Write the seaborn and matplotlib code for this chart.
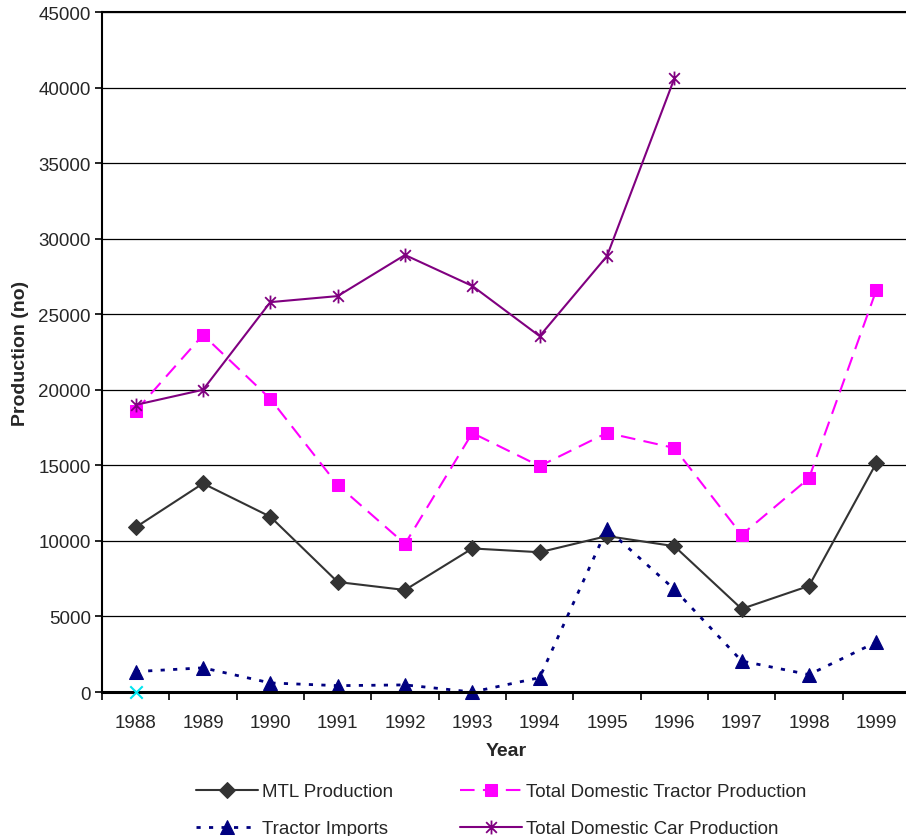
import numpy as np
import pandas as pd
import matplotlib
matplotlib.use("Agg")
import matplotlib.pyplot as plt
from matplotlib.path import Path
import seaborn as sns

years = [1988, 1989, 1990, 1991, 1992, 1993, 1994, 1995, 1996, 1997, 1998, 1999]
mtl_production = [10900, 13800, 11600, 7280, 6750, 9500, 9250, 10320, 9650, 5500, 7020, 15150]
tractor_production = [18600, 23630, 19400, 13700, 9800, 17140, 14950, 17150, 16150, 10400, 14150, 26600]
tractor_imports = [1350, 1600, 600, 420, 470, 0, 950, 10800, 6800, 2050, 1150, 3300]
car_production = [19000, 20000, 25800, 26200, 28920, 26870, 23550, 28850, 40600, np.nan, np.nan, np.nan]
extra_year = [1988]
extra_value = [0]

y_ticks = list(range(0, 45001, 5000))

sns.set_theme(style="white")
plt.rcParams["font.family"] = ["Liberation Sans", "DejaVu Sans"]

fig = plt.figure(figsize=(9.06, 8.37), dpi=100)
ax = fig.add_axes([102 / 906, 1 - 693 / 837, 808 / 906, 680 / 837])

# Asterisk marker: an X with a vertical stroke through it
star_path = Path(
    [(-1, -1), (1, 1), (-1, 1), (1, -1), (0, -1.3), (0, 1.3)],
    [Path.MOVETO, Path.LINETO, Path.MOVETO, Path.LINETO, Path.MOVETO, Path.LINETO],
)

df = pd.DataFrame({
    "year": years,
    "mtl": mtl_production,
    "tractor": tractor_production,
    "imports": tractor_imports,
    "car": car_production,
})

sns.lineplot(data=df, x="year", y="mtl", ax=ax, color="#333333", lw=1.5,
             marker="D", markersize=8, markeredgecolor="#333333",
             label="MTL Production")
sns.lineplot(data=df, x="year", y="imports", ax=ax, color="#000080", lw=2,
             linestyle=(0, (1.5, 3)), marker="^", markersize=9.5,
             markeredgecolor="#000080", label="Tractor Imports", clip_on=False)
sns.lineplot(data=df, x="year", y="tractor", ax=ax, color="#FF00FF", lw=1.5,
             linestyle=(0, (7, 4)), marker="s", markersize=9,
             markeredgecolor="#FF00FF", label="Total Domestic Tractor Production")
sns.lineplot(data=df.dropna(), x="year", y="car", ax=ax, color="#800080", lw=1.5,
             marker=star_path, markersize=10, markeredgewidth=1.3,
             markeredgecolor="#800080", label="Total Domestic Car Production")
sns.scatterplot(x=extra_year, y=extra_value, ax=ax, marker="x", color="#00E5EE",
                s=80, linewidth=1.5, zorder=5, clip_on=False, legend=False)

ax.set_xlim(years[0] - 0.5, years[-1] + 0.5)
ax.set_ylim(0, 45000)
ax.set_yticks(y_ticks)
ax.set_yticklabels([str(v) for v in y_ticks], fontsize=13.5)
ax.set_xticks(years)
ax.set_xticklabels([str(y) for y in years], fontsize=13.5)
ax.set_xticks(np.arange(years[0] - 0.5, years[-1] + 0.6, 1), minor=True)
ax.tick_params(axis="x", which="major", length=0, pad=16)
ax.tick_params(axis="x", which="minor", length=6, width=1.2, color="black", direction="out", bottom=True)
ax.tick_params(axis="y", which="major", length=5, width=1.2, color="black", direction="out", left=True, pad=3)
ax.grid(False)
for v in y_ticks[1:]:
    ax.axhline(v, color="black", lw=0.9, zorder=0)

for side in ["left", "bottom", "top"]:
    ax.spines[side].set_visible(True)
    ax.spines[side].set_color("black")
ax.spines["left"].set_linewidth(1.5)
ax.spines["bottom"].set_linewidth(2.2)
ax.spines["top"].set_linewidth(1.5)
ax.spines["right"].set_visible(False)

ax.set_xlabel("Year", fontsize=14, fontweight="bold", labelpad=8)
ax.set_ylabel("Production (no)", fontsize=14, fontweight="bold", labelpad=7)

handles, labels = ax.get_legend_handles_labels()
order = ["MTL Production", "Tractor Imports",
         "Total Domestic Tractor Production", "Total Domestic Car Production"]
hmap = dict(zip(labels, handles))
ax.legend([hmap[k] for k in order], order, ncol=2, frameon=False,
          loc="upper left", bbox_to_anchor=(0.1, -0.1146), fontsize=13.5,
          handlelength=3.3, handletextpad=0.2, columnspacing=3.6,
          labelspacing=1.07, borderaxespad=0.3)

fig.savefig("out.png", dpi=100)
